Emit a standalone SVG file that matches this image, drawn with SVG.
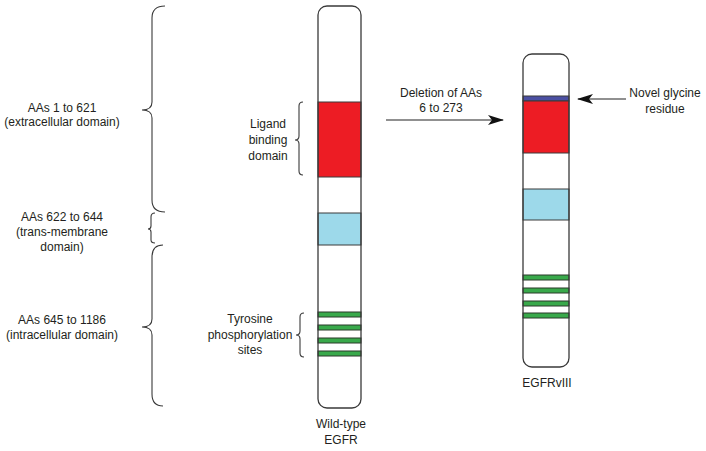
<svg xmlns="http://www.w3.org/2000/svg" width="706" height="451" viewBox="0 0 706 451">
<defs>
<style>
text{font-family:"Liberation Sans",Arial,sans-serif;font-size:12px;fill:#231f20;text-anchor:middle}
.bar{fill:none;stroke:#3a3a3a;stroke-width:1.3}
.bg{fill:#fff}
.red{fill:#ed1c24;stroke:#3a3a3a;stroke-width:1}
.tm{fill:#9dd9ea;stroke:#3a3a3a;stroke-width:1}
.grn{fill:#39a94b;stroke:#2a3a2a;stroke-width:1}
.gly{fill:#4b4fa2;stroke:#3a3a3a;stroke-width:1}
.brace{fill:none;stroke:#3a3a3a;stroke-width:1.1}
.arr{fill:none;stroke:#222;stroke-width:1.2}
</style>
<marker id="ah" viewBox="0 0 16 10" refX="15" refY="5" markerWidth="16" markerHeight="10" markerUnits="userSpaceOnUse" orient="auto">
<path d="M0,0 L16,5 L0,10 L4,5 Z" fill="#111"/>
</marker>
</defs>
<g id="braces">
<path class="brace" d="M165,6 Q152,6 152,18 L152,102 Q152,110 142,110 Q152,110 152,118 L152,200 Q152,212 165,212"/>
<path class="brace" d="M155,213 Q151,213 151,217 L151,226 Q151,229 148,229 Q151,229 151,232 L151,240 Q151,243 155,243"/>
<path class="brace" d="M163,245 Q152,245 152,257 L152,319 Q152,327 142,327 Q152,327 152,335 L152,394 Q152,406 163,406"/>
<path class="brace" d="M303,102 Q299,102 299,106 L299,136 Q299,140 295,140 Q299,140 299,144 L299,171 Q299,175 303,175"/>
<path class="brace" d="M304,313 Q300,313 300,317 L300,331 Q300,335 296,335 Q300,335 300,339 L300,353 Q300,357 304,357"/>
</g>
<g id="labels-left">
<text x="62" y="112">AAs 1 to 621</text>
<text x="62" y="126">(extracellular domain)</text>
<text x="62" y="221">AAs 622 to 644</text>
<text x="62" y="236">(trans-membrane</text>
<text x="62" y="251">domain)</text>
<text x="62" y="324">AAs 645 to 1186</text>
<text x="62" y="339">(intracellular domain)</text>
<text x="268" y="128">Ligand</text>
<text x="268" y="144">binding</text>
<text x="268" y="160">domain</text>
<text x="250" y="323">Tyrosine</text>
<text x="250" y="339">phosphorylation</text>
<text x="250" y="354">sites</text>
</g>
<g id="wild-type">
<rect class="bg" x="318" y="6" width="43" height="402" rx="9"/>
<rect class="red" x="318" y="102" width="43" height="75"/>
<rect class="tm" x="318" y="213" width="43" height="32"/>
<rect class="grn" x="318" y="312" width="43" height="5"/>
<rect class="grn" x="318" y="325" width="43" height="5"/>
<rect class="grn" x="318" y="338" width="43" height="5"/>
<rect class="grn" x="318" y="351" width="43" height="5"/>
<rect class="bar" x="318" y="6" width="43" height="402" rx="9"/>
<text x="341" y="428">Wild-type</text>
<text x="341" y="444">EGFR</text>
</g>
<g id="egfrviii">
<rect class="bg" x="523" y="54" width="46" height="313" rx="9"/>
<rect class="gly" x="523" y="96" width="46" height="5"/>
<rect class="red" x="523" y="101" width="46" height="52"/>
<rect class="tm" x="523" y="189" width="46" height="31"/>
<rect class="grn" x="523" y="275" width="46" height="5"/>
<rect class="grn" x="523" y="288" width="46" height="5"/>
<rect class="grn" x="523" y="301" width="46" height="5"/>
<rect class="grn" x="523" y="313" width="46" height="5"/>
<rect class="bar" x="523" y="54" width="46" height="313" rx="9"/>
<text x="547" y="387">EGFRvIII</text>
</g>
<g id="connectors">
<line class="arr" x1="386" y1="120" x2="503" y2="120" marker-end="url(#ah)"/>
<line class="arr" x1="626" y1="99" x2="578" y2="99" marker-end="url(#ah)"/>
</g>
<g id="arrow-labels">
<text x="441" y="97">Deletion of AAs</text>
<text x="441" y="112">6 to 273</text>
<text x="665" y="97">Novel glycine</text>
<text x="665" y="113">residue</text>
</g>
</svg>
